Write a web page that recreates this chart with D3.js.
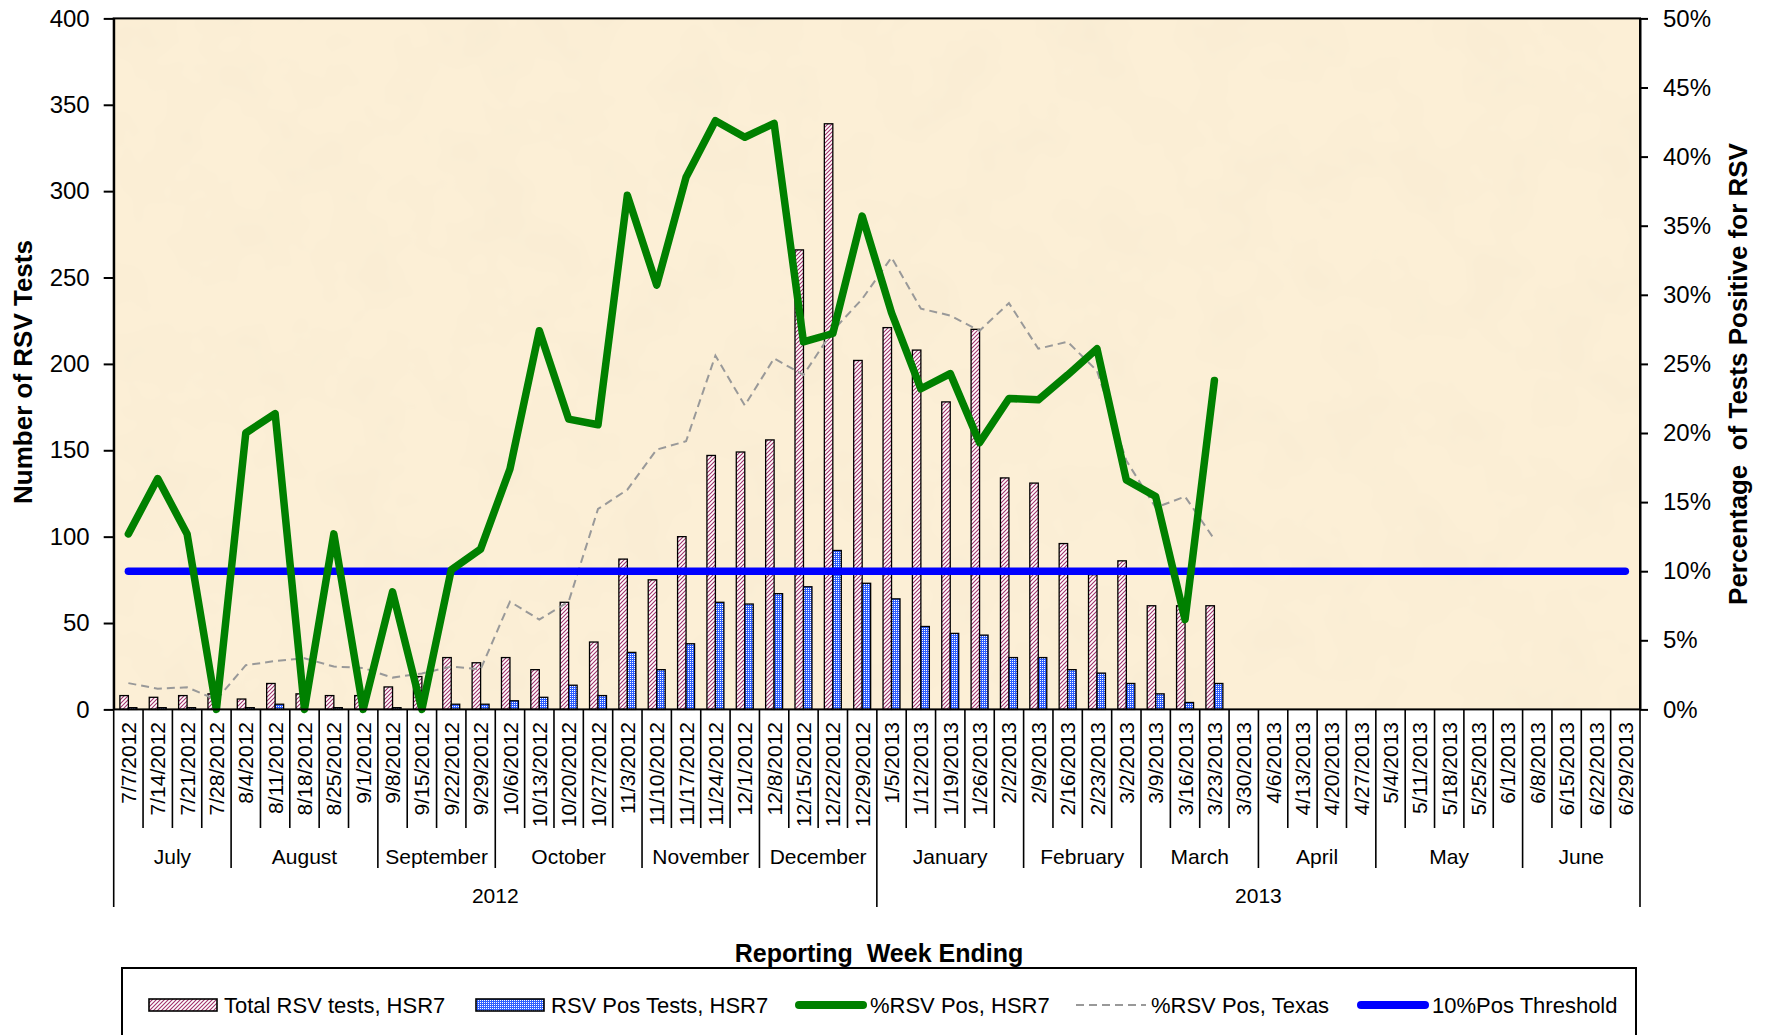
<!DOCTYPE html>
<html>
<head>
<meta charset="utf-8">
<script src="https://cdn.jsdelivr.net/npm/d3@7"></script>
<style>
  html, body { margin: 0; padding: 0; background: #ffffff; }
  svg { display: block; font-family: "Liberation Sans", Arial, sans-serif; }
</style>
</head>
<body>
<svg id="chart" width="1767" height="1035"></svg>
<script>
// ---------------- DATA ----------------
const weekLabels = [
  "7/7/2012","7/14/2012","7/21/2012","7/28/2012","8/4/2012","8/11/2012","8/18/2012","8/25/2012","9/1/2012",
  "9/8/2012","9/15/2012","9/22/2012","9/29/2012","10/6/2012","10/13/2012","10/20/2012","10/27/2012","11/3/2012",
  "11/10/2012","11/17/2012","11/24/2012","12/1/2012","12/8/2012","12/15/2012","12/22/2012","12/29/2012",
  "1/5/2013","1/12/2013","1/19/2013","1/26/2013","2/2/2013","2/9/2013","2/16/2013","2/23/2013","3/2/2013",
  "3/9/2013","3/16/2013","3/23/2013","3/30/2013","4/6/2013","4/13/2013","4/20/2013","4/27/2013",
  "5/4/2013","5/11/2013","5/18/2013","5/25/2013","6/1/2013","6/8/2013","6/15/2013","6/22/2013","6/29/2013"
];
const monthNames = ["July","August","September","October","November","December","January","February","March","April","May","June"];
const monthWeekCounts = [4,5,4,5,4,4,5,4,4,4,5,4];
const yearNames = ["2012","2013"];
const yearWeekCounts = [26,26];

// values through 3/23/2013 (38 weeks)
const totalTests = [8,7,8,9,6,15,9,8,8,13,19,30,27,30,23,62,39,87,75,100,147,149,156,266,339,202,221,208,178,220,134,131,96,78,86,60,60,60];
const posTests   = [1,1,1,0,1,3,0,1,0,1,0,3,3,5,7,14,8,33,23,38,62,61,67,71,92,73,64,48,44,43,30,30,23,21,15,9,4,15];
const pctHSR7    = [12.7,16.7,12.7,0,20.0,21.4,0,12.7,0,8.5,0,10.1,11.6,17.4,27.4,21.0,20.6,37.2,30.7,38.5,42.6,41.4,42.4,26.6,27.2,35.7,28.7,23.2,24.3,19.3,22.5,22.4,24.2,26.1,16.6,15.4,6.5,23.8];
const pctTexas   = [1.9,1.5,1.6,0.7,3.2,3.5,3.7,3.1,3.0,2.3,2.6,3.1,2.9,7.8,6.5,7.8,14.5,15.9,18.8,19.4,25.6,22.0,25.4,24.2,27.4,29.7,32.7,29.0,28.5,27.4,29.4,26.1,26.6,24.5,18.0,14.6,15.4,12.3];
const thresholdPct = 10;

const leftTicks  = [0,50,100,150,200,250,300,350,400];
const rightTicks = [0,5,10,15,20,25,30,35,40,45,50];

const legendItems = [
  {label:"Total RSV tests, HSR7", type:"hatch"},
  {label:"RSV Pos Tests, HSR7",   type:"check"},
  {label:"%RSV Pos, HSR7",        type:"green"},
  {label:"%RSV Pos, Texas",       type:"dash"},
  {label:"10%Pos Threshold",      type:"blue"}
];

// ---------------- LAYOUT ----------------
const M = {left:113.7, right:1640, top:18.4, bottom:709.4};
const svg = d3.select("#chart");

const defs = svg.append("defs");
const hatch = defs.append("pattern").attr("id","hatch").attr("patternUnits","userSpaceOnUse")
  .attr("width",4).attr("height",4);
hatch.append("rect").attr("width",4).attr("height",4).attr("fill","#ffffff");
hatch.append("path").attr("d","M-1,1 L1,-1 M0,4 L4,0 M3,5 L5,3")
  .attr("stroke","#a0306a").attr("stroke-width",1.1);

const check = defs.append("pattern").attr("id","check").attr("patternUnits","userSpaceOnUse")
  .attr("width",2).attr("height",2);
check.append("rect").attr("width",2).attr("height",2).attr("fill","#2f5fff");
check.append("rect").attr("width",1).attr("height",1).attr("fill","#ffffff");

const paper = defs.append("filter").attr("id","paper").attr("x",0).attr("y",0).attr("width","100%").attr("height","100%");
paper.append("feTurbulence").attr("type","fractalNoise").attr("baseFrequency","0.015").attr("numOctaves",3).attr("seed",7).attr("result","n");
paper.append("feColorMatrix").attr("in","n").attr("type","matrix")
  .attr("values","0 0 0 0 0.90  0 0 0 0 0.80  0 0 0 0 0.62  0.7 0 0 0 -0.28");

// scales
const x = d3.scaleBand().domain(weekLabels).range([M.left, M.right]).padding(0);
const xs = d3.scaleBand().domain(["total","pos"]).range([0, x.bandwidth()]).paddingInner(0).paddingOuter(0.73);
const yL = d3.scaleLinear().domain([0,400]).range([M.bottom, M.top]);
const yR = d3.scaleLinear().domain([0,50]).range([M.bottom, M.top]);
const cx = d => x(d) + x.bandwidth()/2;

// background
svg.append("rect").attr("x",M.left).attr("y",M.top).attr("width",M.right-M.left).attr("height",M.bottom-M.top)
  .attr("fill","#fcefd6");
svg.append("rect").attr("x",M.left).attr("y",M.top).attr("width",M.right-M.left).attr("height",M.bottom-M.top)
  .attr("fill","#fff").attr("filter","url(#paper)");

// bars
const barData = totalTests.map((t,i) => ({week:weekLabels[i], total:t, pos:posTests[i]}));
const gBars = svg.append("g");
barData.forEach(d => {
  gBars.append("rect")
    .attr("x", x(d.week) + xs("total")).attr("width", xs.bandwidth())
    .attr("y", yL(d.total)).attr("height", yL(0) - yL(d.total))
    .attr("fill","url(#hatch)").attr("stroke","#000").attr("stroke-width",1.3);
  gBars.append("rect")
    .attr("x", x(d.week) + xs("pos")).attr("width", xs.bandwidth())
    .attr("y", yL(d.pos)).attr("height", yL(0) - yL(d.pos))
    .attr("fill","url(#check)").attr("stroke","#000").attr("stroke-width",1.3);
});

// texas dashed
const lineR = d3.line().x(d => cx(d.week)).y(d => yR(d.v));
svg.append("path")
  .datum(pctTexas.map((v,i)=>({week:weekLabels[i], v})))
  .attr("d", lineR).attr("fill","none").attr("stroke","#999999").attr("stroke-width",2)
  .attr("stroke-dasharray","8,5");

// threshold
svg.append("path")
  .datum([{week:weekLabels[0], v:thresholdPct},{week:weekLabels[weekLabels.length-1], v:thresholdPct}])
  .attr("d", lineR).attr("fill","none").attr("stroke","#0000ff").attr("stroke-width",7.5)
  .attr("stroke-linecap","round");

// HSR7 green
svg.append("path")
  .datum(pctHSR7.map((v,i)=>({week:weekLabels[i], v})))
  .attr("d", lineR).attr("fill","none").attr("stroke","#008000").attr("stroke-width",7.5)
  .attr("stroke-linejoin","round").attr("stroke-linecap","round");

// frame
svg.append("rect").attr("x",M.left).attr("y",M.top).attr("width",M.right-M.left).attr("height",M.bottom-M.top)
  .attr("fill","none").attr("stroke","#000").attr("stroke-width",2);

// axes
const axL = svg.append("g").attr("transform",`translate(${M.left},0)`)
  .call(d3.axisLeft(yL).tickValues(leftTicks).tickSize(10).tickPadding(14).tickSizeOuter(0));
const axR = svg.append("g").attr("transform",`translate(${M.right},0)`)
  .call(d3.axisRight(yR).tickValues(rightTicks).tickSize(8).tickPadding(15).tickSizeOuter(0).tickFormat(d => d + "%"));
[axL, axR].forEach(a => {
  a.select(".domain").attr("stroke","#000").attr("stroke-width",2);
  a.selectAll(".tick line").attr("stroke","#000").attr("stroke-width",2);
  a.selectAll(".tick text").attr("fill","#000").style("font-size","24px")
    .style("font-family","'Liberation Sans', Arial, sans-serif");
});

// category axis: date labels
const gCat = svg.append("g");
weekLabels.forEach(w => {
  gCat.append("text")
    .attr("transform", `translate(${cx(w)},722) rotate(-90)`)
    .attr("text-anchor","end").attr("dy","0.36em")
    .style("font-size","21px").attr("fill","#000").text(w);
});
// separators
const monthBounds = new Set(); let acc = 0;
monthWeekCounts.forEach(c => { acc += c; monthBounds.add(acc); });
const yearBounds = new Set([0]); acc = 0;
yearWeekCounts.forEach(c => { acc += c; yearBounds.add(acc); });
for (let i = 0; i <= weekLabels.length; i++) {
  const xp = i < weekLabels.length ? x(weekLabels[i]) : M.right;
  const y2 = yearBounds.has(i) ? 907 : (monthBounds.has(i) ? 868 : 828);
  gCat.append("line").attr("x1",xp).attr("x2",xp).attr("y1",M.bottom).attr("y2",y2)
    .attr("stroke","#000").attr("stroke-width",1.6);
}
// month labels
acc = 0;
monthNames.forEach((m,i) => {
  const a = x(weekLabels[acc]);
  const endIdx = acc + monthWeekCounts[i];
  const b = endIdx < weekLabels.length ? x(weekLabels[endIdx]) : M.right;
  gCat.append("text").attr("x",(a+b)/2).attr("y",864).attr("text-anchor","middle")
    .style("font-size","21px").text(m);
  acc = endIdx;
});
acc = 0;
yearNames.forEach((yn,i) => {
  const a = x(weekLabels[acc]);
  const endIdx = acc + yearWeekCounts[i];
  const b = endIdx < weekLabels.length ? x(weekLabels[endIdx]) : M.right;
  gCat.append("text").attr("x",(a+b)/2).attr("y",903).attr("text-anchor","middle")
    .style("font-size","21px").text(yn);
  acc = endIdx;
});

// axis titles
svg.append("text").attr("transform","translate(23,372) rotate(-90)").attr("text-anchor","middle")
  .attr("dy","0.35em").style("font-size","26px").style("font-weight","bold").text("Number of RSV Tests");
svg.append("text").attr("transform","translate(1738,374) rotate(-90)").attr("text-anchor","middle")
  .attr("dy","0.35em").style("font-size","26px").style("font-weight","bold").style("white-space","pre")
  .text("Percentage  of Tests Positive for RSV");
svg.append("text").attr("x",879).attr("y",962).attr("text-anchor","middle")
  .style("font-size","25px").style("font-weight","bold").style("white-space","pre")
  .text("Reporting  Week Ending");

// legend
const gLeg = svg.append("g");
gLeg.append("rect").attr("x",122).attr("y",968).attr("width",1636-122).attr("height",100)
  .attr("fill","#fff").attr("stroke","#000").attr("stroke-width",2);
const legX = [149, 476, 795, 1076, 1357];
const legY = 1005;
legendItems.forEach((it,i) => {
  const x0 = legX[i];
  if (it.type === "hatch" || it.type === "check") {
    gLeg.append("rect").attr("x",x0).attr("y",legY-6).attr("width",68).attr("height",12)
      .attr("fill", it.type === "hatch" ? "url(#hatch)" : "url(#check)")
      .attr("stroke","#000").attr("stroke-width",1.6);
  } else if (it.type === "green" || it.type === "blue") {
    gLeg.append("line").attr("x1",x0+4).attr("x2",x0+68).attr("y1",legY).attr("y2",legY)
      .attr("stroke", it.type === "green" ? "#008000" : "#0000ff").attr("stroke-width",8)
      .attr("stroke-linecap","round");
  } else {
    gLeg.append("line").attr("x1",x0).attr("x2",x0+70).attr("y1",legY).attr("y2",legY)
      .attr("stroke","#999999").attr("stroke-width",2).attr("stroke-dasharray","8,5");
  }
  gLeg.append("text").attr("x",x0+75).attr("y",1013).style("font-size","22px").text(it.label);
});
</script>
</body>
</html>
